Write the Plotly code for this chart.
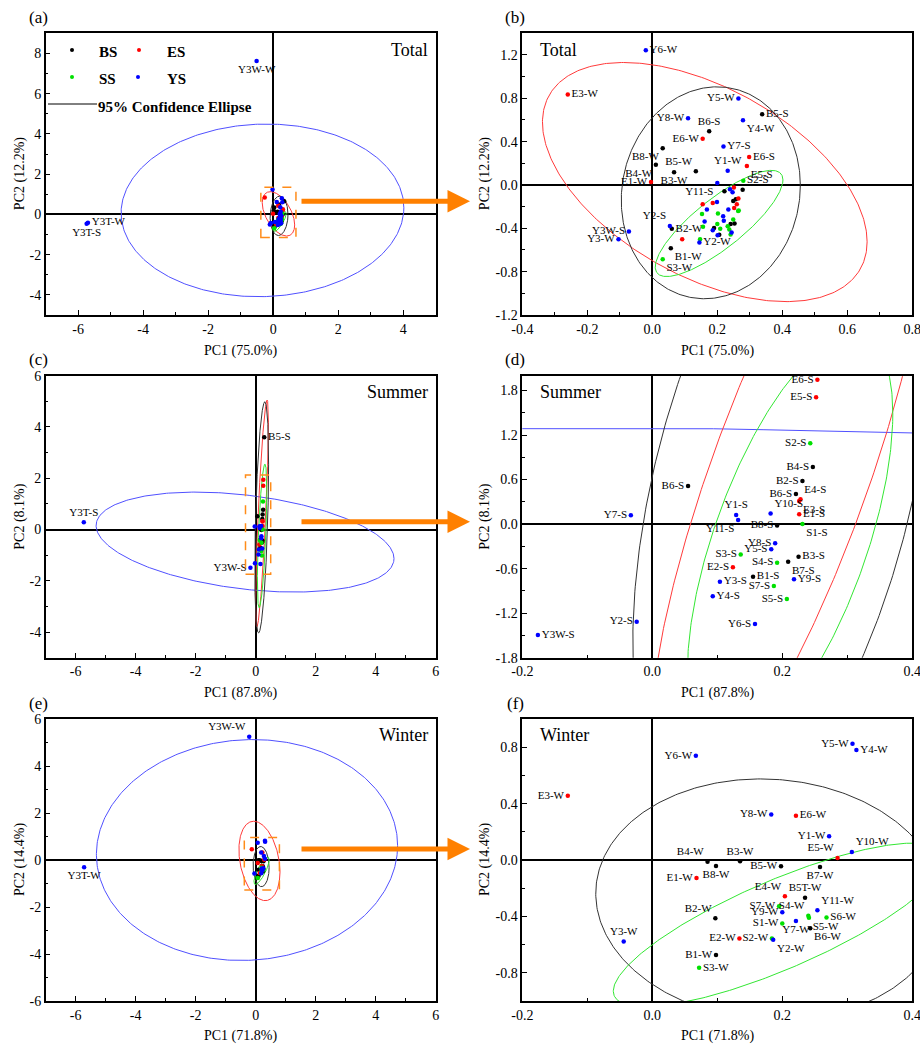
import numpy as np
import plotly.graph_objects as go

W, H = 920, 1045
SERIF = "Liberation Serif, Times New Roman, serif"

GROUPS = ["BS", "ES", "SS", "YS"]
GROUP_COLORS = {"BS": "#000000", "ES": "#ff0000", "SS": "#00e000", "YS": "#0000ff"}
ELL_COLORS = {"BS": "#333333", "ES": "#ff3a3a", "SS": "#33e633", "YS": "#5050ff"}

# ---------------- Total (a, b) ----------------
TOTAL_NAME = ["Y6-W", "E3-W", "Y5-W", "B5-S", "Y8-W", "Y4-W", "B6-S", "E6-W", "Y7-S", "B8-W",
              "E6-S", "E5-S", "B4-W", "B5-W", "B3-W", "Y1-W", "E1-W", "Y11-S", "S2-S", "Y2-S",
              "B2-W", "Y3W-S", "Y3-W", "B1-W", "S3-W", "Y2-W", "Y3W-W", "Y3T-W", "Y3T-S"] + [""] * 38
TOTAL_GROUP = ["YS", "ES", "YS", "BS", "YS", "YS", "BS", "ES", "YS", "BS",
               "ES", "ES", "BS", "BS", "BS", "YS", "ES", "YS", "SS", "YS",
               "BS", "YS", "YS", "BS", "SS", "YS", "YS", "YS", "YS",
               "BS", "YS", "YS", "ES", "BS", "BS", "ES", "BS", "ES", "ES",
               "ES", "YS", "YS", "ES", "SS", "YS", "SS", "SS", "YS", "YS",
               "YS", "SS", "SS", "SS", "BS", "BS", "SS", "BS", "SS", "YS",
               "SS", "YS", "BS", "SS", "YS", "SS", "ES", "SS"]
TOTAL_PC1 = [-0.02, -0.26, 0.265, 0.338, 0.11, 0.279, 0.175, 0.155, 0.219, 0.032,
             0.298, 0.291, 0.011, 0.134, 0.067, 0.232, -0.004, 0.20, 0.28, 0.054,
             0.06, -0.072, -0.104, 0.057, 0.032, 0.145, -0.51, -5.70, -5.74,
             0.222, 0.239, 0.247, 0.251, 0.278, 0.257, 0.265, 0.249, 0.260, 0.155,
             0.186, 0.199, 0.168, 0.252, 0.264, 0.234, 0.153, 0.202, 0.218, 0.161,
             0.220, 0.249, 0.200, 0.232, 0.241, 0.253, 0.156, 0.190, 0.209, 0.186,
             0.237, 0.201, 0.206, 0.241, 0.244, 0.147, 0.092, 0.266]
TOTAL_PC2 = [1.243, 0.835, 0.798, 0.654, 0.617, 0.598, 0.497, 0.426, 0.356, 0.34,
             0.258, 0.175, 0.187, 0.126, 0.117, 0.132, 0.028, 0.018, 0.04, -0.378,
             -0.405, -0.43, -0.50, -0.583, -0.685, -0.531, 7.62, -0.41, -0.47,
             -0.058, -0.040, -0.067, -0.024, -0.043, -0.132, -0.125, -0.147, -0.178, -0.178,
             -0.166, -0.156, -0.227, -0.212, -0.240, -0.227, -0.267, -0.263, -0.288, -0.337,
             -0.331, -0.319, -0.359, -0.380, -0.359, -0.356, -0.386, -0.396, -0.405, -0.417,
             -0.411, -0.463, -0.460, -0.457, -0.438, -0.500, -0.500, -0.235]
LABELS_A = {"Y3W-W": "bottom center", "Y3T-W": "middle right", "Y3T-S": "bottom center"}
LABELS_B = {"Y6-W": "middle right", "E3-W": "middle right", "Y5-W": "middle left", "B5-S": "middle right",
            "Y8-W": "middle left", "Y4-W": "bottom right", "B6-S": "top center", "E6-W": "middle left",
            "Y7-S": "middle right", "B8-W": "bottom left", "E6-S": "middle right", "E5-S": "bottom right",
            "B4-W": "bottom left", "B5-W": "top left", "B3-W": "bottom center", "Y1-W": "top center",
            "E1-W": "middle left", "Y11-S": "bottom left", "S2-S": "middle right", "Y2-S": "top left",
            "B2-W": "middle right", "Y3W-S": "middle left", "Y3-W": "middle left", "B1-W": "bottom right",
            "S3-W": "bottom right", "Y2-W": "middle right"}
# ellipse: centre x, centre y, sd x, sd y, correlation
TOTAL_ELL = {"YS": (-0.33, 0.2, 4.35, 4.29, 0.03),
             "ES": (0.1615, 0.027, 0.4995, 1.1035, -0.50),
             "BS": (0.18, -0.072, 0.2755, 0.978, 0.07),
             "SS": (0.2055, -0.355, 0.1965, 0.49, 0.82)}

# ---------------- Summer (c, d) ----------------
SUMMER_NAME = ["E6-S", "E5-S", "S2-S", "B4-S", "B2-S", "B6-S", "E4-S", "E3-S", "E1-S", "Y10-S",
               "S1-S", "B8-S", "Y1-S", "Y11-S", "B6-S", "Y7-S", "Y8-S", "Y5-S", "S3-S", "B3-S",
               "B7-S", "S4-S", "E2-S", "B1-S", "Y9-S", "Y3-S", "S7-S", "Y4-S", "S5-S", "Y2-S",
               "Y6-S", "Y3W-S", "Y3T-S", "B5-S"]
SUMMER_GROUP = ["ES", "ES", "SS", "BS", "BS", "BS", "ES", "ES", "ES", "YS",
                "SS", "BS", "YS", "YS", "BS", "YS", "YS", "YS", "SS", "BS",
                "BS", "SS", "ES", "BS", "YS", "YS", "SS", "YS", "SS", "YS",
                "YS", "YS", "YS", "BS"]
SUMMER_PC1 = [0.254, 0.252, 0.243, 0.247, 0.231, 0.221, 0.228, 0.226, 0.226, 0.182,
              0.231, 0.192, 0.129, 0.132, 0.055, -0.033, 0.189, 0.183, 0.136, 0.225,
              0.209, 0.192, 0.124, 0.155, 0.218, 0.104, 0.187, 0.093, 0.207, -0.024,
              0.158, -0.176, -5.73, 0.285]
SUMMER_PC2 = [1.944, 1.71, 1.09, 0.771, 0.582, 0.407, 0.335, 0.312, 0.133, 0.142,
              0.002, -0.02, 0.124, 0.056, 0.515, 0.119, -0.259, -0.339, -0.411, -0.438,
              -0.506, -0.519, -0.582, -0.708, -0.744, -0.775, -0.834, -0.973, -1.009, -1.315,
              -1.346, -1.494, 0.286, 3.6]
LABELS_C = {"Y3T-S": "top center", "B5-S": "middle right", "Y3W-S": "middle left"}
LABELS_D = {"E6-S": "middle left", "E5-S": "middle left", "S2-S": "middle left", "B4-S": "middle left",
            "B2-S": "middle left", "B6-S": "middle left", "E4-S": "top right", "E3-S": "bottom right",
            "E1-S": "middle right", "Y10-S": "top right", "S1-S": "bottom right", "B8-S": "middle left",
            "Y1-S": "top center", "Y11-S": "bottom left", "Y7-S": "middle left", "Y8-S": "middle left",
            "Y5-S": "middle left", "S3-S": "middle left", "B3-S": "middle right", "B7-S": "bottom right",
            "S4-S": "middle left", "E2-S": "middle left", "B1-S": "middle right", "Y9-S": "middle right",
            "Y3-S": "middle right", "S7-S": "middle left", "Y4-S": "middle right", "S5-S": "middle left",
            "Y2-S": "middle left", "Y6-S": "middle left", "Y3W-S": "middle right"}
SUMMER_ELL = {"YS": (-0.355, -0.49, 4.965, 1.95, -0.33),
              "BS": (0.20, 0.475, 0.23, 4.51, 0.46),
              "ES": (0.21, 0.63, 0.214, 4.42, 0.80),
              "SS": (0.212, -0.25, 0.158, 2.8, 0.62)}

# ---------------- Winter (e, f) ----------------
WINTER_NAME = ["Y5-W", "Y4-W", "Y6-W", "E3-W", "Y8-W", "E6-W", "Y1-W", "Y10-W", "E5-W", "B4-W",
               "B3-W", "B8-W", "B5-W", "B7-W", "E1-W", "E4-W", "B5T-W", "S7-W", "Y11-W", "Y9-W",
               "S4-W", "S6-W", "B2-W", "Y7-W", "S5-W", "B6-W", "S1-W", "E2-W", "S2-W", "Y2-W",
               "B1-W", "S3-W", "Y3-W", "Y3W-W", "Y3T-W"]
WINTER_GROUP = ["YS", "YS", "YS", "ES", "YS", "ES", "YS", "YS", "ES", "BS",
                "BS", "BS", "BS", "BS", "ES", "ES", "BS", "SS", "YS", "YS",
                "SS", "SS", "BS", "YS", "SS", "BS", "SS", "ES", "SS", "YS",
                "BS", "SS", "YS", "YS", "YS"]
WINTER_PC1 = [0.308, 0.314, 0.067, -0.130, 0.183, 0.221, 0.272, 0.307, 0.285, 0.085,
              0.135, 0.098, 0.198, 0.258, 0.068, 0.204, 0.235, 0.195, 0.254, 0.200,
              0.240, 0.268, 0.097, 0.221, 0.241, 0.243, 0.200, 0.134, 0.184, 0.186,
              0.098, 0.072, -0.044, -0.216, -5.72]
WINTER_PC2 = [0.824, 0.781, 0.739, 0.455, 0.323, 0.314, 0.168, 0.057, 0.014, -0.012,
              -0.009, -0.042, -0.045, -0.05, -0.127, -0.257, -0.267, -0.328, -0.356, -0.37,
              -0.396, -0.408, -0.413, -0.432, -0.41, -0.484, -0.451, -0.557, -0.557, -0.566,
              -0.673, -0.765, -0.578, 5.25, -0.31]
LABELS_E = {"Y3W-W": "top left", "Y3T-W": "bottom center"}
LABELS_F = {"Y5-W": "middle left", "Y4-W": "middle right", "Y6-W": "middle left", "E3-W": "middle left",
            "Y8-W": "middle left", "E6-W": "middle right", "Y1-W": "middle left", "Y10-W": "top right",
            "E5-W": "top left", "B4-W": "top left", "B3-W": "top center", "B8-W": "bottom center",
            "B5-W": "middle left", "B7-W": "bottom center", "E1-W": "middle left", "E4-W": "top left",
            "B5T-W": "top center", "S7-W": "middle left", "Y11-W": "top right", "Y9-W": "middle left",
            "S4-W": "top left", "S6-W": "middle right", "B2-W": "top left", "Y7-W": "bottom center",
            "S5-W": "bottom right", "B6-W": "bottom right", "S1-W": "middle left", "E2-W": "middle left",
            "S2-W": "middle left", "Y2-W": "bottom right", "B1-W": "middle left", "S3-W": "middle right",
            "Y3-W": "top center"}
WINTER_ELL = {"YS": (-0.29, 0.425, 5.02, 4.7, 0.04),
              "ES": (0.125, -0.04, 0.685, 1.69, -0.28),
              "BS": (0.18, -0.28, 0.267, 0.855, -0.05),
              "SS": (0.195, -0.46, 0.255, 0.58, 0.81)}

# zoom boxes (x0, x1, y0, y1)
ZOOM_A = (-0.38, 0.70, -1.15, 1.35)
ZOOM_C = (-0.34, 0.50, -1.74, 2.13)
ZOOM_E = (-0.38, 0.79, -1.28, 0.96)

DATASETS = {
    "total": (TOTAL_NAME, TOTAL_GROUP, TOTAL_PC1, TOTAL_PC2, TOTAL_ELL),
    "summer": (SUMMER_NAME, SUMMER_GROUP, SUMMER_PC1, SUMMER_PC2, SUMMER_ELL),
    "winter": (WINTER_NAME, WINTER_GROUP, WINTER_PC1, WINTER_PC2, WINTER_ELL),
}

LEFT = (45.7, 435.7)
RIGHT = (522.3, 912.3)
ROWS = [(33.3, 315.0), (375.7, 657.7), (719.0, 1001.0)]

PANELS = [
    dict(tag="(a)", ds="total", labels=LABELS_A, col=LEFT, row=0, xr=(-7, 5), yr=(-5, 9),
         xt=(-6, 4, 2, 0), yt=(-4, 8, 2, 0), xm=1, ym=1, title="Total", tside="right",
         xl="PC1 (75.0%)", yl="PC2 (12.2%)", box=ZOOM_A),
    dict(tag="(b)", ds="total", labels=LABELS_B, col=RIGHT, row=0, xr=(-0.4, 0.8), yr=(-1.2, 1.4),
         xt=(-0.4, 0.8, 0.2, 1), yt=(-1.2, 1.2, 0.4, 1), xm=0.1, ym=0.2, title="Total", tside="left",
         xl="PC1 (75.0%)", yl="PC2 (12.2%)", box=None),
    dict(tag="(c)", ds="summer", labels=LABELS_C, col=LEFT, row=1, xr=(-7, 6), yr=(-5, 6),
         xt=(-6, 6, 2, 0), yt=(-4, 6, 2, 0), xm=1, ym=1, title="Summer", tside="right",
         xl="PC1 (87.8%)", yl="PC2 (8.1%)", box=ZOOM_C),
    dict(tag="(d)", ds="summer", labels=LABELS_D, col=RIGHT, row=1, xr=(-0.2, 0.4), yr=(-1.8, 2.0),
         xt=(-0.2, 0.4, 0.2, 1), yt=(-1.8, 1.8, 0.6, 1), xm=0.1, ym=0.3, title="Summer", tside="left",
         xl="PC1 (87.8%)", yl="PC2 (8.1%)", box=None),
    dict(tag="(e)", ds="winter", labels=LABELS_E, col=LEFT, row=2, xr=(-7, 6), yr=(-6, 6),
         xt=(-6, 6, 2, 0), yt=(-6, 6, 2, 0), xm=1, ym=1, title="Winter", tside="right",
         xl="PC1 (71.8%)", yl="PC2 (14.4%)", box=ZOOM_E),
    dict(tag="(f)", ds="winter", labels=LABELS_F, col=RIGHT, row=2, xr=(-0.2, 0.4), yr=(-1.0, 1.0),
         xt=(-0.2, 0.4, 0.2, 1), yt=(-0.8, 0.8, 0.4, 1), xm=0.1, ym=0.2, title="Winter", tside="left",
         xl="PC1 (71.8%)", yl="PC2 (14.4%)", box=None),
]
X_TITLE_Y = [351, 693, 1036]
Y_TITLE_X = {LEFT: 20, RIGHT: 485}


def ticks(lo, hi, step, dec):
    vals = [round(v, 6) + 0.0 for v in np.arange(lo, hi + step / 2, step)]
    return vals, [f"{v:.{dec}f}" for v in vals]


def ellipse_xy(cx, cy, sx, sy, rho):
    t = np.linspace(0, 2 * np.pi, 400)
    x = cx + sx * np.cos(t)
    y = cy + sy * (rho * np.cos(t) + np.sqrt(1 - rho ** 2) * np.sin(t))
    return x, y


def ptxt(text, px, py, size, **kw):
    d = dict(text=text, xref="paper", yref="paper", x=px / W, y=1 - py / H, showarrow=False,
             xanchor="center", yanchor="middle", font=dict(family=SERIF, size=size, color="black"))
    d.update(kw)
    return d


fig = go.Figure()
layout = {}
annotations = []
shapes = []

for i, p in enumerate(PANELS):
    n = i + 1
    xa = "x" if n == 1 else f"x{n}"
    ya = "y" if n == 1 else f"y{n}"
    names, groups, pc1, pc2, ell = DATASETS[p["ds"]]

    for g in ["YS", "ES", "BS", "SS"]:
        ex, ey = ellipse_xy(*ell[g])
        fig.add_trace(go.Scatter(x=ex, y=ey, mode="lines", xaxis=xa, yaxis=ya,
                                 line=dict(color=ELL_COLORS[g], width=1), hoverinfo="skip"))

    for g in GROUPS:
        idx = [k for k in range(len(names)) if groups[k] == g]
        fig.add_trace(go.Scatter(
            x=[pc1[k] for k in idx], y=[pc2[k] for k in idx], xaxis=xa, yaxis=ya,
            mode="markers+text",
            text=[names[k] if names[k] in p["labels"] else "" for k in idx],
            textposition=[p["labels"].get(names[k], "middle right") for k in idx],
            textfont=dict(family=SERIF, size=11, color="black"),
            marker=dict(size=4.5, color=GROUP_COLORS[g]), cliponaxis=True))

    top, bot = ROWS[p["row"]]
    xv, xtx = ticks(*p["xt"])
    yv, ytx = ticks(*p["yt"])
    common = dict(showline=True, linecolor="black", linewidth=1.5, mirror=True, showgrid=False,
                  zeroline=True, zerolinecolor="black", zerolinewidth=1.5, automargin=False,
                  ticks="inside", ticklen=5, tickwidth=1, tickcolor="black", ticklabeloverflow="allow",
                  tickfont=dict(family=SERIF, size=14, color="black"), tickmode="array")
    layout["xaxis" if n == 1 else f"xaxis{n}"] = dict(
        domain=[p["col"][0] / W, p["col"][1] / W], range=list(p["xr"]), anchor=ya,
        tickvals=xv, ticktext=xtx,
        minor=dict(tick0=0, dtick=p["xm"], ticks="inside", ticklen=3, tickcolor="black", showgrid=False),
        **common)
    layout["yaxis" if n == 1 else f"yaxis{n}"] = dict(
        domain=[1 - bot / H, 1 - top / H], range=list(p["yr"]), anchor=xa,
        tickvals=yv, ticktext=ytx,
        minor=dict(tick0=0, dtick=p["ym"], ticks="inside", ticklen=3, tickcolor="black", showgrid=False),
        **common)

    # panel letter
    annotations.append(ptxt(p["tag"], p["col"][0] - 7, top - 16, 17))
    # season title
    if p["tside"] == "right":
        annotations.append(dict(text=p["title"], xref=f"{xa} domain", yref=f"{ya} domain",
                                x=0.985, y=0.985, xanchor="right", yanchor="top", showarrow=False,
                                font=dict(family=SERIF, size=18, color="black")))
    else:
        annotations.append(dict(text=p["title"], xref=f"{xa} domain", yref=f"{ya} domain",
                                x=0.04, y=0.985, xanchor="left", yanchor="top", showarrow=False,
                                font=dict(family=SERIF, size=18, color="black")))
    # axis titles
    annotations.append(ptxt(p["xl"], (p["col"][0] + p["col"][1]) / 2, X_TITLE_Y[p["row"]], 14))
    annotations.append(ptxt(p["yl"], Y_TITLE_X[p["col"]], (top + bot) / 2, 14, textangle=-90))
    if p["box"] is not None:
        bx0, bx1, by0, by1 = p["box"]
        shapes.append(dict(type="rect", xref=xa, yref=ya, x0=bx0, x1=bx1, y0=by0, y1=by1,
                           line=dict(color="#ff8c1a", width=1.5, dash="dash")))
        # orange arrow towards zoomed panel
        ymid = (top + bot) / 2 + (27 if p["row"] == 0 else 5 if p["row"] == 1 else -11)
        annotations.append(dict(text="", xref="paper", yref="paper", x=470 / W, y=1 - ymid / H,
                                ax=-170, ay=0, axref="pixel", ayref="pixel", showarrow=True,
                                arrowhead=2, arrowsize=0.9, arrowwidth=5, arrowcolor="#ff8000"))

# legend in panel (a)
LEG_ITEMS = [("BS", 72, 50, 97), ("ES", 139, 50, 165), ("SS", 72, 77, 97), ("YS", 138, 77, 165)]
for g, cx, cy, tx in LEG_ITEMS:
    shapes.append(dict(type="circle", xref="paper", yref="paper",
                       x0=(cx - 2) / W, x1=(cx + 2) / W, y0=1 - (cy + 2) / H, y1=1 - (cy - 2) / H,
                       fillcolor=GROUP_COLORS[g], line=dict(width=0)))
    annotations.append(ptxt(f"<b>{g}</b>", tx, cy + 2, 15, xanchor="left"))
shapes.append(dict(type="line", xref="paper", yref="paper", x0=48 / W, x1=97 / W,
                   y0=1 - 104 / H, y1=1 - 104 / H, line=dict(color="black", width=1)))
annotations.append(ptxt("<b>95% Confidence Ellipse</b>", 96, 107, 15, xanchor="left"))

fig.update_layout(width=W, height=H, margin=dict(l=0, r=0, t=0, b=0),
                  plot_bgcolor="white", paper_bgcolor="white", showlegend=False,
                  annotations=annotations, shapes=shapes, **layout)
fig.write_html("out.html", config={"displayModeBar": False},
               post_script="document.body.style.margin='0';document.body.style.overflow='hidden';")
